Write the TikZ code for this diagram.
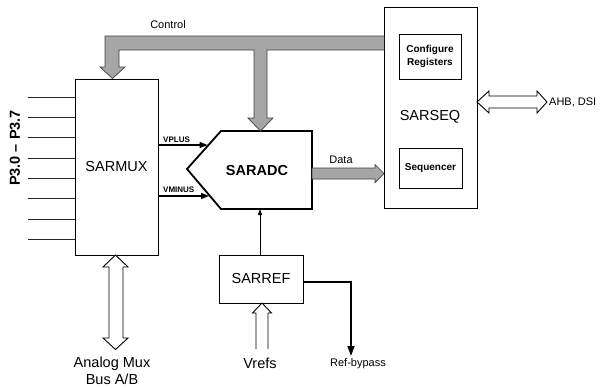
\documentclass[tikz,border=0pt]{standalone}
\usepackage{fontspec}
\setmainfont{Liberation Sans}
\usetikzlibrary{arrows.meta,calc}
\definecolor{busgray}{RGB}{166,166,166}
\begin{document}
\begin{tikzpicture}[x=1pt,y=-1pt,
  box/.style={draw=black, line width=1pt, inner sep=0pt, outer sep=0pt, fill=white},
  bus/.style={fill=busgray, draw=black!75, line width=0.7pt, line join=miter},
  hollow/.style={fill=white, draw=black, line width=0.9pt, line join=miter},
  sig/.style={draw=black, line width=1.2pt, -{Triangle[length=8pt,width=6pt]}},
  pin/.style={draw=black!85, line width=0.9pt},
  fbig/.style={font=\fontsize{14.5}{17}\selectfont},
  fbigb/.style={font=\bfseries\fontsize{14.5}{17}\selectfont},
  fmid/.style={font=\fontsize{11}{13}\selectfont},
  fsmall/.style={font=\bfseries\fontsize{8}{9}\selectfont},
  fbox/.style={font=\bfseries\fontsize{10}{12}\selectfont, align=center},
  txt/.style={inner sep=0pt}
]
\useasboundingbox (0,0) rectangle (600,388);

% blocks
\node[box, minimum width=83pt, minimum height=176pt, fbig] (mux) at (116.5,167) {SARMUX};
\node[box, minimum width=93pt, minimum height=201pt] (seq) at (430.5,107.5) {};
\node[txt, fbig] (seqlab) at (430,117) {SARSEQ};
\node[box, minimum width=62pt, minimum height=45pt, fbox] (cfg) at (430,56.5) {Configure\\[1pt]Registers};
\node[box, minimum width=63pt, minimum height=40pt, fbox] (sqr) at (430.5,168) {Sequencer};
\node[box, minimum width=84pt, minimum height=48pt, fbig] (ref) at (261,279) {SARREF};

% SARADC
\draw[line width=1.8pt, fill=white, line join=miter] (221,131) -- (312,131) -- (312,209) -- (221,209) -- (187,169) -- cycle;
\node[txt, fbigb] (adc) at (257,171) {SARADC};
\coordinate (adcp) at (207.5,145);
\coordinate (adcm) at (209,196);
\coordinate (adcb) at (260,209);

% control bus
\path[bus] (seq.west |- 0,36) -- (105,36) -- (105,67) -- (100,67) -- (112.5,78.5) -- (125,67) -- (119,67) -- (119,50)
  -- (254,50) -- (254,118) -- (248,118) -- (260.5,131) -- (273,118) -- (267,118) -- (267,50) -- (seq.west |- 0,50);
\node[txt, fmid] (ctl) at (168,25) {Control};

% data bus
\path[bus] (312,168) -- (375,168) -- (375,164.5) -- (seq.west |- 0,173.5) -- (375,182.5) -- (375,179) -- (312,179) -- cycle;
\node[txt, fmid] (dat) at (341,160) {Data};

% VPLUS / VMINUS
\coordinate (mp) at (mux.east |- adcp);
\coordinate (mm) at (mux.east |- adcm);
\draw[sig] (mp) -- (adcp);
\draw[sig] (mm) -- (adcm);
\node[txt, fsmall, anchor=west] (vp) at (163,140) {VPLUS};
\node[txt, fsmall, anchor=west] (vm) at (163,190) {VMINUS};

% SARREF -> SARADC
\draw[draw=black, line width=0.9pt, -{Triangle[length=6pt,width=4pt]}] (ref.north -| adcb) -- (adcb);

% Ref-bypass
\coordinate (rb) at (351,356);
\draw[sig, line width=1.5pt, -{Triangle[length=10pt,width=7pt]}] (ref.east |- 0,282) -| (rb);
\node[txt, fmid] (rbl) at (358,363.5) {Ref-bypass};

% pins
\foreach \i/\yy in {1/97,2/117,3/137,4/158,5/178,6/198,7/219,8/239}{
  \coordinate (p\i) at (28,\yy);
  \draw[pin] (p\i) -- (p\i -| mux.west);
}
\node[txt, fbigb, rotate=90] (pins) at (15,148) {P3.0 -- P3.7};

% AHB, DSI double arrow
\path[hollow] (seq.east |- 0,102) -- (489,91) -- (489,96) -- (537,96) -- (537,91) -- (547,102) -- (537,113) -- (537,108) -- (489,108) -- (489,113) -- cycle;
\node[txt, fmid, anchor=west] (ahb) at (549,102) {AHB, DSI};

% Analog mux bus double arrow
\path[hollow] (115.5,255) -- (128,267) -- (123,267) -- (123,338) -- (128,338) -- (115.5,349.5) -- (103,338) -- (109,338) -- (109,267) -- (103,267) -- cycle;
\node[txt, fbig, align=center] (amux) at (112,371) {Analog Mux\\Bus A/B};

% Vrefs arrow
\path[hollow] (256,349) -- (256,313) -- (252.5,313) -- (262,303) -- (271.5,313) -- (268,313) -- (268,349);
\node[txt, fbig] (vrefs) at (260,363) {Vrefs};
\end{tikzpicture}
\end{document}
